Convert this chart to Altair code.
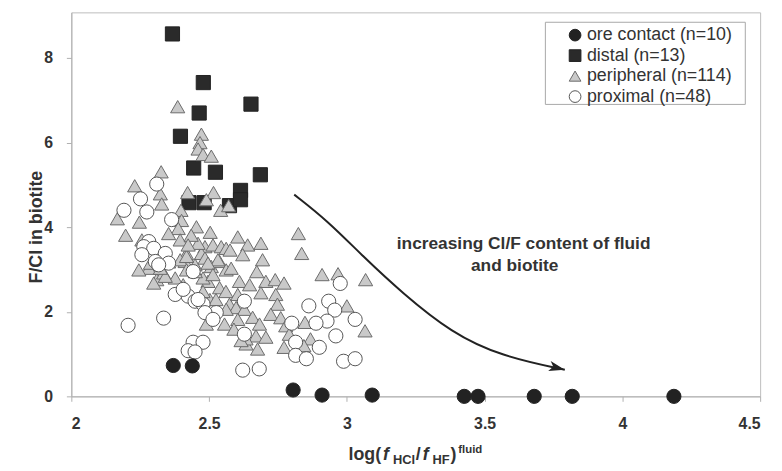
import altair as alt
import pandas as pd

# ---------------- data ----------------
groups = ["ore contact (n=10)", "distal (n=13)", "peripheral (n=114)", "proximal (n=48)"]

ore_x = [2.370, 2.439, 2.805, 2.910, 3.092, 3.426, 3.476, 3.680, 3.818, 4.187]
ore_y = [0.73, 0.72, 0.15, 0.03, 0.03, 0.0, 0.0, 0.0, 0.0, 0.0]

distal_x = [2.367, 2.479, 2.652, 2.464, 2.396, 2.444, 2.523, 2.686, 2.427, 2.482, 2.574, 2.614, 2.614]
distal_y = [8.57, 7.42, 6.91, 6.70, 6.15, 5.40, 5.30, 5.24, 4.58, 4.58, 4.51, 4.87, 4.65]

peri_x = [2.386, 2.472, 2.467, 2.460, 2.478, 2.508, 2.326, 2.230, 2.323, 2.328, 2.422, 2.516,
          2.490, 2.542, 2.571, 2.398, 2.400, 2.167, 2.247, 2.197, 2.454, 2.388, 2.353, 2.395,
          2.604, 2.256, 2.485, 2.514, 2.544, 2.562, 2.418, 2.472,
          2.281, 2.310, 2.335, 2.377, 2.413, 2.449, 2.485, 2.508, 2.538, 2.562, 2.610, 2.538,
          2.503, 2.574, 2.598, 2.628, 2.490, 2.556, 2.634,
          2.824, 2.836, 2.910, 2.968, 3.068, 3.000, 3.066, 2.848, 2.868, 2.772,
          2.640, 2.688, 2.694, 2.673, 2.706, 2.740, 2.772, 2.742, 2.688, 2.748, 2.724, 2.760,
          2.670, 2.706, 2.676, 2.778,
          2.287, 2.299, 2.341, 2.323, 2.395, 2.418, 2.418, 2.532, 2.580, 2.496, 2.460, 2.634,
          2.844, 2.478, 2.496, 2.562, 2.616,
          2.435, 2.504, 2.576, 2.622, 2.450, 2.514, 2.561, 2.478, 2.604, 2.406, 2.353, 2.647,
          2.658, 2.604, 2.525, 2.683, 2.791, 2.590, 2.245, 2.424]
peri_y = [6.85, 6.20, 6.00, 5.85, 5.72, 5.68, 5.31, 4.98, 4.79, 4.55, 4.82, 4.82,
          4.65, 4.40, 4.51, 4.40, 4.16, 4.20, 4.12, 3.81, 4.01, 3.97, 3.85, 3.70,
          3.77, 3.70, 3.54, 3.58, 3.54, 3.50, 3.38, 3.38,
          3.03, 2.76, 2.92, 2.80, 3.19, 3.11, 3.27, 3.07, 3.19, 2.99, 2.72, 2.57,
          2.29, 2.18, 2.10, 2.06, 1.71, 1.71, 1.24,
          3.85, 3.38, 2.88, 2.90, 2.76, 2.14, 1.55, 1.75, 1.36, 1.16,
          3.58, 3.62, 3.23, 2.95, 2.72, 2.76, 2.68, 2.41, 2.45, 2.18, 1.94, 1.86,
          1.43, 1.40, 1.12, 1.67,
          3.15, 2.68, 2.84, 3.03, 3.23, 3.31, 2.99, 3.23, 3.03, 2.72, 3.62, 1.36,
          1.20, 2.80, 3.15, 2.06, 1.32,
          3.81, 3.88, 3.46, 3.35, 2.95, 2.88, 2.48, 2.48, 2.41, 2.64, 3.18, 2.64,
          1.87, 1.82, 2.29, 1.71, 1.47, 1.59, 2.99, 3.58]

prox_x = [2.310, 2.251, 2.191, 2.274, 2.364, 2.281, 2.263, 2.299, 2.341,
          2.256, 2.305, 2.353, 2.442, 2.377, 2.424, 2.449, 2.478, 2.526, 2.628, 2.206, 2.335,
          2.442, 2.478, 2.424, 2.449, 2.628, 2.622, 2.682,
          2.485,
          2.976, 2.862, 2.934, 2.956, 3.030, 2.928, 2.888, 2.800, 2.960, 2.900, 2.814, 2.814,
          2.853, 2.988, 3.030,
          2.460, 2.406, 2.514, 2.317]
prox_y = [5.02, 4.67, 4.40, 4.36, 4.18, 3.66, 3.54, 3.50, 3.38,
          3.35, 3.19, 3.15, 2.95, 2.41, 2.37, 2.25, 2.18, 1.98, 2.25, 1.68, 1.85,
          1.28, 1.28, 1.08, 1.05, 1.47, 0.62, 0.65,
          1.98,
          2.67, 2.14, 2.25, 2.04, 1.82, 1.78, 1.73, 1.73, 1.43, 1.16, 1.28, 0.97,
          0.89, 0.83, 0.89,
          2.29, 2.53, 1.82, 3.11]

# control points of the smooth annotation arrow
arrow_x = [2.809, 2.930, 3.060, 3.200, 3.380, 3.560, 3.791]
arrow_y = [4.77, 4.15, 3.30, 2.45, 1.50, 0.95, 0.63]

x_ticks = [2, 2.5, 3, 3.5, 4, 4.5]
y_ticks = [0, 2, 4, 6, 8]

# ---------------- table (draw order: distal, peripheral, proximal, ore) ----------------
rows = []
for xs, ys, g in [(distal_x, distal_y, groups[1]), (peri_x, peri_y, groups[2]),
                  (prox_x, prox_y, groups[3]), (ore_x, ore_y, groups[0])]:
    for a, b in zip(xs, ys):
        rows.append({"x": a, "y": b, "group": g})
df = pd.DataFrame(rows)
arrow_df = pd.DataFrame({"x": arrow_x, "y": arrow_y})

FONT = "Liberation Sans"
xscale = alt.Scale(domain=[2, 4.5], nice=False, zero=False)
yscale = alt.Scale(domain=[0, 9.08], nice=False, zero=False)
leg = alt.Legend(zindex=5)

points = alt.Chart(df).mark_point(filled=True, opacity=1, strokeWidth=1).encode(
    x=alt.X("x:Q", scale=xscale,
            axis=alt.Axis(values=x_ticks, format="~g", title=None, grid=False)),
    y=alt.Y("y:Q", scale=yscale,
            axis=alt.Axis(values=y_ticks, format="d", title=None, grid=False)),
    shape=alt.Shape("group:N", scale=alt.Scale(domain=groups,
                    range=["circle", "square", "triangle-up", "circle"]), title=None, legend=leg),
    fill=alt.Fill("group:N", scale=alt.Scale(domain=groups,
                  range=["#222222", "#2a2a2a", "#c9c9c9", "#ffffff"]), title=None, legend=leg),
    stroke=alt.Stroke("group:N", scale=alt.Scale(domain=groups,
                      range=["#222222", "#222222", "#6a6a6a", "#555555"]), title=None, legend=leg),
)

arrow_line = alt.Chart(arrow_df).mark_line(color="#222222", strokeWidth=2,
                                           interpolate="basis").encode(
    x=alt.X("x:Q", scale=xscale), y=alt.Y("y:Q", scale=yscale))

head = alt.Chart(arrow_df.tail(1)).mark_point(
    shape="M0,0L-2,-0.65L-1.5,0L-2,0.65Z", filled=True, fill="#222222",
    color="#222222", opacity=1, size=256, angle=14).encode(
    x=alt.X("x:Q", scale=xscale), y=alt.Y("y:Q", scale=yscale))


def txt(s, x, y, size, weight="bold", style="normal", align="left",
        baseline="alphabetic", angle=None):
    kw = dict(text=s, font=FONT, fontSize=size, fontWeight=weight, fontStyle=style,
              align=align, baseline=baseline, color="#333333")
    if angle is not None:
        kw["angle"] = angle
    return alt.Chart(alt.Data(values=[{"a": 1}])).mark_text(**kw).encode(
        x=alt.value(x), y=alt.value(y))


legend_box = alt.Chart(alt.Data(values=[{"a": 1}])).mark_rect(
    fill="white", stroke="#a8a8a8", strokeWidth=1).encode(
    x=alt.value(479), x2=alt.value(681), y=alt.value(10), y2=alt.value(93))

texts = [
    txt("increasing Cl/F content of fluid", 457, 239, 17.5, align="center"),
    txt("and biotite", 448, 261, 17.5, align="center"),
    txt("F/Cl in biotite", -35, 217, 18, align="center", baseline="middle", angle=270),
    txt("log(", 280, 452, 18),
    txt("f", 315, 452, 18, style="italic"),
    txt("HCl", 325, 456, 13),
    txt("/", 348, 452, 18),
    txt("f", 355, 452, 18, style="italic"),
    txt("HF", 365, 456, 13),
    txt(")", 383, 452, 18),
    txt("fluid", 391, 445, 11.5),
]

chart = alt.layer(legend_box, points, arrow_line, head, *texts).properties(
    width=696, height=388,
    autosize=alt.AutoSizeParams(type="none"),
    padding={"left": 64, "top": 2, "right": 14, "bottom": 73},
).configure_view(
    stroke="#bdbdbd", strokeWidth=1
).configure_point(
    size=205
).configure_axis(
    domainColor="#b0b0b0", tickColor="#b0b0b0", tickSize=5,
    labelFont=FONT, labelFontSize=16, labelFontWeight="bold", labelColor="#333333",
    labelPadding=14
).configure_legend(
    orient="none", legendX=500, legendY=14, labelFont=FONT, labelFontSize=18,
    labelColor="#333333", symbolSize=140, symbolStrokeWidth=1, rowPadding=2.7,
    labelOffset=3, padding=0, strokeColor="transparent"
)

chart.save("out.html", embed_options={"renderer": "svg", "actions": False})
